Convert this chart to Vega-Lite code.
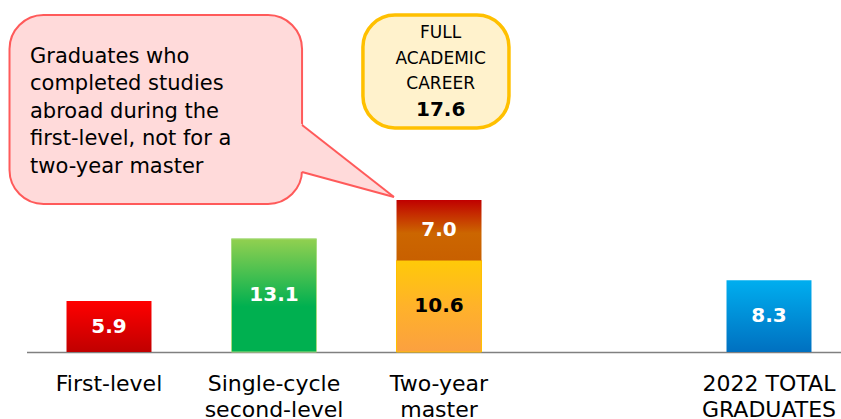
{
  "$schema": "https://vega.github.io/schema/vega-lite/v6.json",
  "width": 825,
  "height": 352,
  "autosize": {"type": "none"},
  "padding": {"left": 26.5, "top": 0, "right": 0, "bottom": 67},
  "background": "white",
  "config": {"view": {"stroke": null}, "font": "DejaVu Sans"},
  "resolve": {"scale": {"x": "independent"}},
  "layer": [
    {
      "data": {"values": [
        {"level": "First-level", "part": "single", "value": 5.9},
        {"level": "Single-cycle|second-level", "part": "single", "value": 13.1},
        {"level": "Two-year|master", "part": "lower", "value": 10.6},
        {"level": "Two-year|master", "part": "upper", "value": 7.0},
        {"level": "2022 TOTAL|GRADUATES", "part": "single", "value": 8.3}
      ]},
      "transform": [
        {"stack": "value", "groupby": ["level"], "sort": [{"field": "part"}], "as": ["y0", "y1"]},
        {"calculate": "(datum.y0 + datum.y1) / 2", "as": "mid"}
      ],
      "encoding": {
        "x": {
          "field": "level", "type": "nominal", "sort": null,
          "scale": {"domain": ["First-level", "Single-cycle|second-level", "Two-year|master", "gap", "2022 TOTAL|GRADUATES"], "paddingInner": 0.485, "paddingOuter": 0.2425},
          "axis": {"title": null, "labelAngle": 0, "labelFontSize": 22, "labelColor": "#000000", "labelFont": "DejaVu Sans", "ticks": false, "domainColor": "#808080", "domainWidth": 1.5, "labelPadding": 21, "labelLineHeight": 26, "labelExpr": "datum.label == 'gap' ? '' : split(datum.label, '|')", "labelAlign": "center", "labelBaseline": "top", "labelBound": false, "labelOverlap": false, "grid": false}
        }
      },
      "layer": [
        {
          "transform": [{"filter": "datum.level == 'First-level'"}],
          "mark": {"type": "bar", "color": {"gradient": "linear", "x1": 0, "y1": 0, "x2": 0, "y2": 1, "stops": [{"offset": 0, "color": "#FF0000"}, {"offset": 1, "color": "#C00000"}]}},
          "encoding": {
            "y": {"field": "y0", "type": "quantitative", "scale": {"domain": [0, 40.74], "nice": false, "zero": false}, "axis": null},
            "y2": {"field": "y1"}
          }
        },
        {
          "transform": [{"filter": "datum.level == 'Single-cycle|second-level'"}],
          "mark": {"type": "bar", "stroke": "#A8DC80", "strokeWidth": 1, "color": {"gradient": "linear", "x1": 0, "y1": 0, "x2": 0, "y2": 1, "stops": [{"offset": 0, "color": "#92D050"}, {"offset": 0.6, "color": "#00B050"}, {"offset": 1, "color": "#00B050"}]}},
          "encoding": {
            "y": {"field": "y0", "type": "quantitative", "scale": {"domain": [0, 40.74], "nice": false, "zero": false}, "axis": null},
            "y2": {"field": "y1"}
          }
        },
        {
          "transform": [{"filter": "datum.part == 'lower'"}],
          "mark": {"type": "bar", "stroke": "#FFC000", "strokeWidth": 1, "color": {"gradient": "linear", "x1": 0, "y1": 0, "x2": 0, "y2": 1, "stops": [{"offset": 0, "color": "#FFCA08"}, {"offset": 0.5, "color": "#FFB22A"}, {"offset": 1, "color": "#FBA040"}]}},
          "encoding": {
            "y": {"field": "y0", "type": "quantitative", "scale": {"domain": [0, 40.74], "nice": false, "zero": false}, "axis": null},
            "y2": {"field": "y1"}
          }
        },
        {
          "transform": [{"filter": "datum.part == 'upper'"}],
          "mark": {"type": "bar", "color": {"gradient": "linear", "x1": 0, "y1": 0, "x2": 0, "y2": 1, "stops": [{"offset": 0, "color": "#C00000"}, {"offset": 0.55, "color": "#CC6600"}, {"offset": 1, "color": "#C86000"}]}},
          "encoding": {
            "y": {"field": "y0", "type": "quantitative", "scale": {"domain": [0, 40.74], "nice": false, "zero": false}, "axis": null},
            "y2": {"field": "y1"}
          }
        },
        {
          "transform": [{"filter": "datum.level == '2022 TOTAL|GRADUATES'"}],
          "mark": {"type": "bar", "color": {"gradient": "linear", "x1": 0, "y1": 0, "x2": 0, "y2": 1, "stops": [{"offset": 0, "color": "#00AEEF"}, {"offset": 1, "color": "#0070C0"}]}},
          "encoding": {
            "y": {"field": "y0", "type": "quantitative", "scale": {"domain": [0, 40.74], "nice": false, "zero": false}, "axis": null},
            "y2": {"field": "y1"}
          }
        },
        {
          "mark": {"type": "text", "fontSize": 20, "fontWeight": "bold", "font": "DejaVu Sans", "baseline": "middle", "align": "center"},
          "encoding": {
            "y": {"field": "mid", "type": "quantitative", "scale": {"domain": [0, 40.74], "nice": false, "zero": false}, "axis": null},
            "text": {"field": "value", "type": "quantitative", "format": ".1f"},
            "color": {"condition": {"test": "datum.part == 'lower'", "value": "#000000"}, "value": "#FFFFFF"}
          }
        }
      ]
    },
    {
      "encoding": {},
      "layer": [
        {
          "data": {"values": [{"u1": -0.103, "u2": 1.670, "v1": 39.0, "v2": 17.13}]},
          "mark": {"type": "rect", "fill": "#FFDADA", "stroke": "#FF5A5A", "strokeWidth": 2, "cornerRadius": 34},
          "encoding": {
            "x": {"field": "u1", "type": "quantitative", "scale": {"domain": [0, 5], "nice": false, "zero": false}, "axis": null},
            "x2": {"field": "u2"},
            "y": {"field": "v1", "type": "quantitative", "scale": {"domain": [0, 40.74], "nice": false, "zero": false}, "axis": null},
            "y2": {"field": "v2"}
          }
        },
        {
          "data": {"values": [{"u": 1.655, "top": 26.57, "bottom": 20.93}, {"u": 2.227, "top": 17.94, "bottom": 17.94}]},
          "mark": {"type": "area", "fill": "#FFDADA", "orient": "vertical"},
          "encoding": {
            "x": {"field": "u", "type": "quantitative", "scale": {"domain": [0, 5], "nice": false, "zero": false}, "axis": null},
            "y": {"field": "top", "type": "quantitative", "scale": {"domain": [0, 40.74], "nice": false, "zero": false}, "axis": null},
            "y2": {"field": "bottom"}
          }
        },
        {
          "data": {"values": [
            {"edge": "a", "u": 1.670, "v": 26.27}, {"edge": "a", "u": 2.227, "v": 17.94},
            {"edge": "b", "u": 1.670, "v": 20.83}, {"edge": "b", "u": 2.227, "v": 17.94}
          ]},
          "mark": {"type": "line", "color": "#FF5A5A", "strokeWidth": 2},
          "encoding": {
            "x": {"field": "u", "type": "quantitative", "scale": {"domain": [0, 5], "nice": false, "zero": false}, "axis": null},
            "y": {"field": "v", "type": "quantitative", "scale": {"domain": [0, 40.74], "nice": false, "zero": false}, "axis": null},
            "detail": {"field": "edge", "type": "nominal"}
          }
        },
        {
          "data": {"values": [{"u": 0.0212, "v": 34.2, "note": "Graduates who\ncompleted studies\nabroad during the\nfirst-level, not for a\ntwo-year master"}]},
          "mark": {"type": "text", "align": "left", "baseline": "middle", "fontSize": 21, "lineHeight": 27.5, "lineBreak": "\n", "color": "#000000", "font": "DejaVu Sans"},
          "encoding": {
            "x": {"field": "u", "type": "quantitative", "scale": {"domain": [0, 5], "nice": false, "zero": false}, "axis": null},
            "y": {"field": "v", "type": "quantitative", "scale": {"domain": [0, 40.74], "nice": false, "zero": false}, "axis": null},
            "text": {"field": "note", "type": "nominal"}
          }
        },
        {
          "data": {"values": [{"u1": 2.039, "u2": 2.924, "v1": 39.0, "v2": 25.93}]},
          "mark": {"type": "rect", "fill": "#FFF2CC", "stroke": "#FFC000", "strokeWidth": 3.5, "cornerRadius": 32},
          "encoding": {
            "x": {"field": "u1", "type": "quantitative", "scale": {"domain": [0, 5], "nice": false, "zero": false}, "axis": null},
            "x2": {"field": "u2"},
            "y": {"field": "v1", "type": "quantitative", "scale": {"domain": [0, 40.74], "nice": false, "zero": false}, "axis": null},
            "y2": {"field": "v2"}
          }
        },
        {
          "data": {"values": [{"u": 2.51, "v": 36.92, "label": "FULL\nACADEMIC\nCAREER"}]},
          "mark": {"type": "text", "align": "center", "baseline": "middle", "fontSize": 17, "lineHeight": 25.5, "lineBreak": "\n", "color": "#000000", "font": "DejaVu Sans"},
          "encoding": {
            "x": {"field": "u", "type": "quantitative", "scale": {"domain": [0, 5], "nice": false, "zero": false}, "axis": null},
            "y": {"field": "v", "type": "quantitative", "scale": {"domain": [0, 40.74], "nice": false, "zero": false}, "axis": null},
            "text": {"field": "label", "type": "nominal"}
          }
        },
        {
          "data": {"values": [{"u": 2.51, "v": 28.01, "total": 17.6}]},
          "mark": {"type": "text", "align": "center", "baseline": "middle", "fontSize": 20, "fontWeight": "bold", "color": "#000000", "font": "DejaVu Sans"},
          "encoding": {
            "x": {"field": "u", "type": "quantitative", "scale": {"domain": [0, 5], "nice": false, "zero": false}, "axis": null},
            "y": {"field": "v", "type": "quantitative", "scale": {"domain": [0, 40.74], "nice": false, "zero": false}, "axis": null},
            "text": {"field": "total", "type": "quantitative", "format": ".1f"}
          }
        }
      ]
    }
  ]
}
